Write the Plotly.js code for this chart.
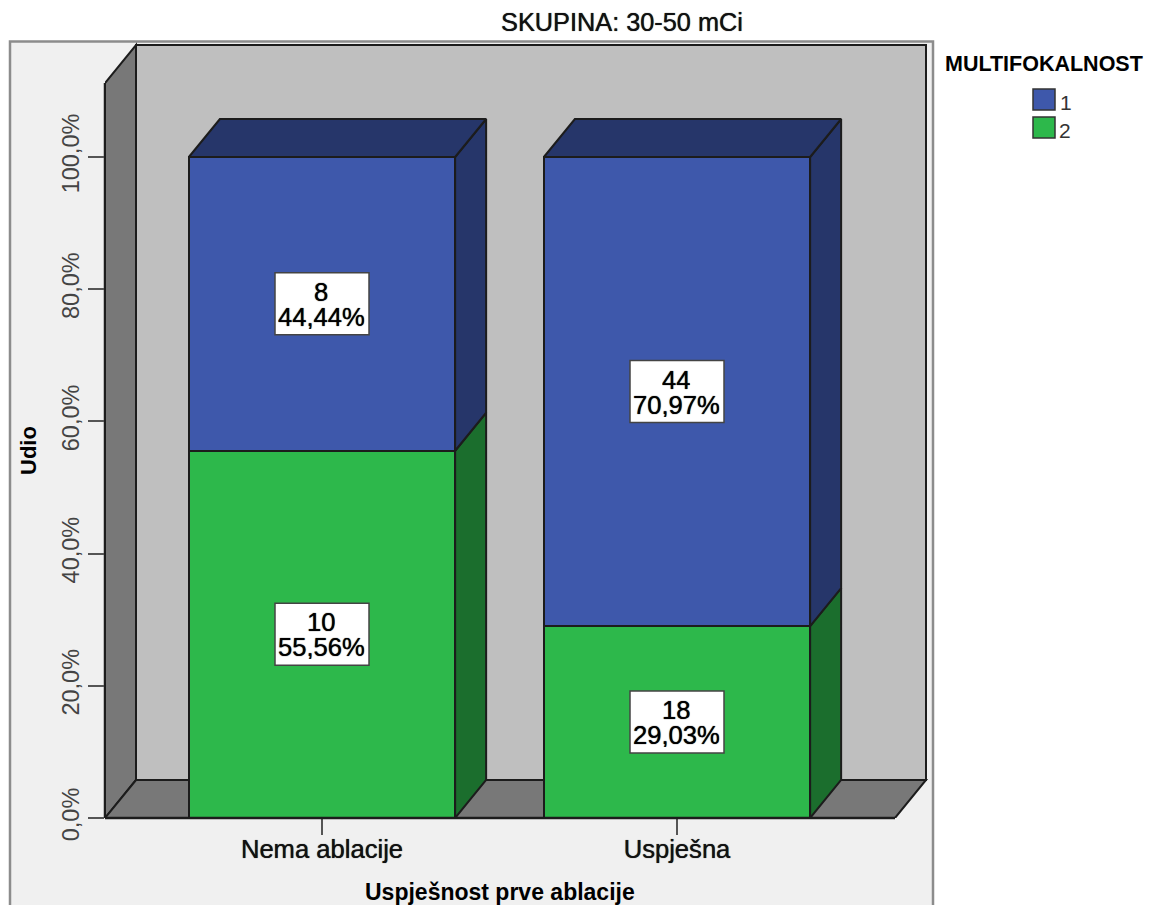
<!DOCTYPE html>
<html><head><meta charset="utf-8">
<script src="https://cdn.plot.ly/plotly-3.0.1.min.js"></script>
<style>html,body{margin:0;padding:0;background:#fff;overflow:hidden}</style>
</head><body><div id="chart" style="width:1164px;height:905px"></div>
<script>
const categories = ["Nema ablacije", "Uspješna"];
const group1Share = [44.44, 70.97];
const group2Share = [55.56, 29.03];
const group1Count = [8, 44];
const group2Count = [10, 18];
const group1Label = ["44,44%", "70,97%"];
const group2Label = ["55,56%", "29,03%"];
const yTicks = [0, 20, 40, 60, 80, 100];
const yTickText = ["0,0%", "20,0%", "40,0%", "60,0%", "80,0%", "100,0%"];

const W = 1164, H = 905;
const L = 105, R = 935, T = 38, B = 818;
const pxPerCat = 355, pxPerPct = 6.61, cat0 = 322;
const depthX = 31 / pxPerCat, depthY = 38 / pxPerPct;
const barW = 0.75;
const xMin = (L - cat0) / pxPerCat, xMax = (R - cat0) / pxPerCat, yMax = (B - T) / pxPerPct;
const floorRight = (895 - cat0) / pxPerCat, wallTop = (B - 83) / pxPerPct;
const px = v => (v - L) / (R - L), py = v => (B - v) / (B - T);

const C = {blue:"#3e58ab", blueD:"#26366a", green:"#2db84b", greenD:"#1b6e2d",
           wall:"#bfbfbf", side:"#787878", bg:"#f0f0f0", edge:"#1c1c1c", frame:"#8c8c8c", text:"#111"};
const edge = {color:C.edge, width:2};
const thick = "0 0 1px #000";
const catX = categories.map((_, i) => i);

const traces = [
  {type:"bar", x:catX, y:group2Share, width:barW, name:"2", marker:{color:C.green, line:edge}, hoverinfo:"skip", showlegend:false},
  {type:"bar", x:catX, y:group1Share, width:barW, name:"1", marker:{color:C.blue, line:edge}, hoverinfo:"skip", showlegend:false}
];
function poly(xs, ys, color) {
  traces.push({type:"scatter", mode:"lines", x:xs, y:ys, fill:"toself", fillcolor:color,
    line:{color:C.edge, width:2}, hoverinfo:"skip", showlegend:false});
}
catX.forEach(i => {
  const xr = i + barW / 2, xl = i - barW / 2;
  const a = group2Share[i], b = a + group1Share[i];
  poly([xr, xr + depthX, xr + depthX, xr, xr], [0, depthY, a + depthY, a, 0], C.greenD);
  poly([xr, xr + depthX, xr + depthX, xr, xr], [a, a + depthY, b + depthY, b, a], C.blueD);
  poly([xl, xl + depthX, xr + depthX, xr, xl], [b, b + depthY, b + depthY, b, b], C.blueD);
});

const wallPath = (pts) => "M" + pts.map(p => p.join(",")).join("L") + "Z";
const shapes = [
  {type:"rect", xref:"paper", yref:"paper", x0:px(10), x1:px(933), y0:py(925), y1:py(41.5), fillcolor:C.bg, line:{color:C.frame, width:2.5}, layer:"below"},
  {type:"rect", xref:"x", yref:"y", x0:xMin + depthX, x1:floorRight + depthX, y0:depthY, y1:wallTop + depthY, fillcolor:C.wall, line:edge, layer:"below"},
  {type:"path", xref:"x", yref:"y", path:wallPath([[xMin,0],[xMin+depthX,depthY],[xMin+depthX,wallTop+depthY],[xMin,wallTop]]), fillcolor:C.side, line:edge, layer:"below"},
  {type:"path", xref:"x", yref:"y", path:wallPath([[xMin,0],[floorRight,0],[floorRight+depthX,depthY],[xMin+depthX,depthY]]), fillcolor:C.side, line:edge, layer:"below"},
  {type:"line", xref:"paper", yref:"y", x0:0, x1:0, y0:0, y1:wallTop, line:{color:C.edge, width:2.5}, layer:"below"},
  {type:"line", xref:"x", yref:"paper", x0:xMin, x1:floorRight, y0:0, y1:0, line:{color:C.edge, width:2.5}},
  {type:"rect", xref:"paper", yref:"paper", x0:px(1033), x1:px(1055), y0:py(110), y1:py(89), fillcolor:C.blue, line:{color:"#333", width:1.5}},
  {type:"rect", xref:"paper", yref:"paper", x0:px(1033), x1:px(1055), y0:py(138), y1:py(117), fillcolor:C.green, line:{color:"#333", width:1.5}}
];
const annotations = [
  {xref:"paper", yref:"paper", x:px(943), y:py(64), xanchor:"left", yanchor:"middle", showarrow:false, text:"MULTIFOKALNOST",
   font:{family:"Liberation Sans", size:21.5, color:"#000", weight:700}},
  {xref:"paper", yref:"paper", x:px(1058), y:py(102), xanchor:"left", yanchor:"middle", showarrow:false, text:"1", font:{family:"Liberation Sans", size:21, color:"#333"}},
  {xref:"paper", yref:"paper", x:px(1057), y:py(130), xanchor:"left", yanchor:"middle", showarrow:false, text:"2", font:{family:"Liberation Sans", size:21, color:"#333"}},
  {xref:"paper", yref:"paper", x:px(499.5), y:py(892), xanchor:"center", yanchor:"middle", showarrow:false, text:"Uspješnost prve ablacije",
   font:{family:"Liberation Sans", size:23, color:"#000", weight:700}},
  {xref:"paper", yref:"paper", x:px(28), y:py(451), xanchor:"center", yanchor:"middle", textangle:-90, showarrow:false, text:"Udio",
   font:{family:"Liberation Sans", size:22, color:"#000", weight:700}}
];
function valueBox(i, mid, n, lab) {
  shapes.push({type:"rect", xref:"x", yref:"y", xsizemode:"pixel", ysizemode:"pixel", xanchor:i, yanchor:mid,
    x0:-47, x1:47, y0:-31, y1:31, fillcolor:"#fff", line:{color:"#444", width:1.5}});
  const f = {family:"Liberation Sans", size:25.6, color:"#000", shadow:thick};
  annotations.push({x:i, y:mid, xshift:-1, yshift:12.5, showarrow:false, text:String(n), font:f, yanchor:"middle", height:25});
  annotations.push({x:i, y:mid, xshift:-1, yshift:-12.5, showarrow:false, text:lab, font:f, yanchor:"middle", height:25});
}
catX.forEach(i => {
  valueBox(i, group2Share[i] / 2, group2Count[i], group2Label[i]);
  valueBox(i, group2Share[i] + group1Share[i] / 2, group1Count[i], group1Label[i]);
});

Plotly.newPlot("chart", traces, {
  width:W, height:H, autosize:false, barmode:"stack", showlegend:false,
  paper_bgcolor:"#fff", plot_bgcolor:"rgba(0,0,0,0)",
  margin:{l:L, r:W - R, t:T, b:H - B, pad:0},
  font:{family:"Liberation Sans", color:C.text},
  title:{text:"SKUPINA: 30-50 mCi", xref:"container", yref:"container", x:622/W, xanchor:"center", y:1 - 22/H, yanchor:"middle",
    font:{family:"Liberation Sans", size:25.3, color:"#111", shadow:"0 0 0.8px #111"}},
  xaxis:{type:"linear", range:[xMin, xMax], tickmode:"array", tickvals:catX, ticktext:categories,
    showgrid:false, zeroline:false, showline:false,
    ticks:"outside", ticklen:16, tickwidth:2, tickcolor:"#555", ticklabelstandoff:-8,
    tickfont:{family:"Liberation Sans", size:25.6, color:"#111", shadow:"0 0 0.8px #111"}},
  yaxis:{type:"linear", range:[0, yMax], tickmode:"array", tickvals:yTicks, ticktext:yTickText, tickangle:-90,
    showgrid:false, zeroline:false, showline:false,
    ticks:"outside", ticklen:16, tickwidth:2, tickcolor:"#555",
    tickfont:{family:"Liberation Sans", size:23.5, color:"#444"}},
  shapes, annotations
}, {staticPlot:true, displayModeBar:false});
</script></body></html>
